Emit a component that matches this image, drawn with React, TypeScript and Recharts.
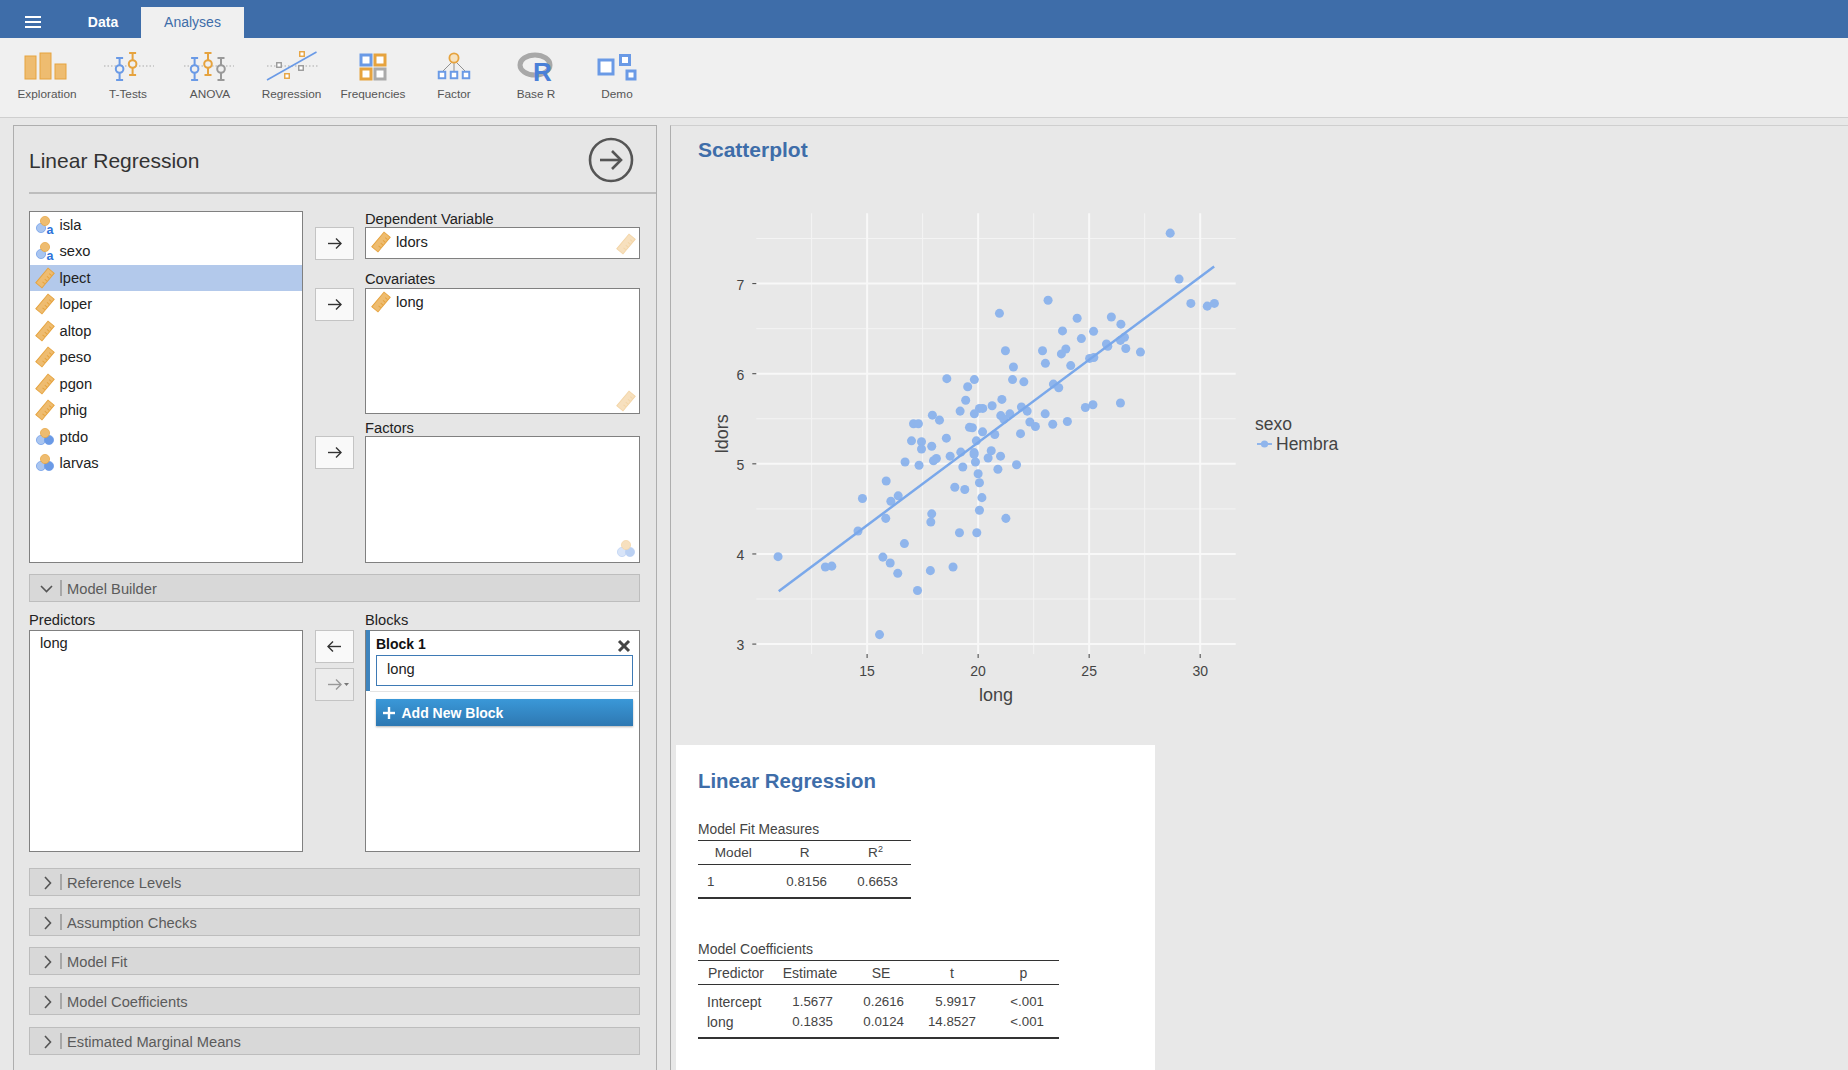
import React from 'react';
import {
  ScatterChart,
  Scatter,
  XAxis,
  YAxis,
  ZAxis,
  CartesianGrid,
  Legend,
} from 'recharts';

// long / ldors
const longValues = [
  20.96, 23.15, 24.46, 23.8, 25.2, 24.65, 21.23, 22.9, 23.95, 23.75, 25.02, 25.21, 23.03, 24.17, 21.59,
  18.59, 19.83, 21.55, 22.06, 19.53, 23.39, 23.63, 19.44, 21.07, 20.63, 20.06, 20.21, 21.95, 24.83, 25.17,
  19.19, 22.21, 17.94, 19.83, 21.43, 23.02, 21.02, 18.26, 21.16, 17.09, 17.31, 22.33, 22.58, 23.36, 24.02,
  19.61, 19.74, 20.2, 20.75, 21.91, 18.57, 17.0, 17.45, 19.92, 17.91, 17.45, 20.59, 19.22, 19.82, 19.82,
  18.74, 21.01, 20.45, 18.12, 17.99, 16.71, 19.88, 17.34, 21.73, 19.31, 20.89, 20.0, 20.06, 15.86, 18.95,
  19.4, 14.79, 16.4, 16.07, 20.17, 20.06, 17.91, 17.87, 15.84, 21.25, 19.16, 19.94, 14.59, 16.68, 10.99,
  15.71, 16.04, 13.12, 13.41, 16.38, 17.85, 18.87, 17.27, 15.56, 29.05, 29.58, 30.32, 30.64, 26.0, 26.43,
  25.78, 25.84, 26.59, 26.41, 26.65, 27.31, 26.41, 28.65,
];
const ldorsValues = [
  6.67, 6.815, 6.615, 6.475, 6.47, 6.39, 6.255, 6.255, 6.275, 6.22, 6.17, 6.18, 6.115, 6.09, 6.075,
  5.945, 5.935, 5.935, 5.91, 5.855, 5.885, 5.845, 5.705, 5.715, 5.645, 5.615, 5.615, 5.63, 5.625, 5.655,
  5.585, 5.585, 5.54, 5.555, 5.555, 5.555, 5.535, 5.485, 5.495, 5.445, 5.445, 5.465, 5.415, 5.44, 5.47,
  5.405, 5.4, 5.355, 5.325, 5.335, 5.285, 5.255, 5.245, 5.255, 5.195, 5.165, 5.145, 5.13, 5.125, 5.105,
  5.085, 5.085, 5.065, 5.06, 5.035, 5.02, 5.02, 4.985, 4.99, 4.965, 4.94, 4.89, 4.79, 4.81, 4.74,
  4.715, 4.615, 4.645, 4.585, 4.625, 4.485, 4.445, 4.355, 4.395, 4.395, 4.235, 4.235, 4.255, 4.115, 3.97,
  3.965, 3.9, 3.855, 3.865, 3.785, 3.815, 3.855, 3.595, 3.105, 7.05, 6.78, 6.75, 6.78, 6.63, 6.55,
  6.33, 6.305, 6.405, 6.37, 6.28, 6.24, 5.675, 7.56,
];
const fitLong = [11.02, 30.63];
const fitLdors = [3.587, 7.19];

const xTicks = [15, 20, 25, 30];
const yTicks = [3, 4, 5, 6, 7];
const xMinor = [12.5, 17.5, 22.5, 27.5];
const yMinor = [3.5, 4.5, 5.5, 6.5, 7.5];

const points = longValues.map((x, i) => ({ x, y: ldorsValues[i] }));
const fitPoints = fitLong.map((x, i) => ({ x, y: fitLdors[i] }));

const variables = ['isla', 'sexo', 'lpect', 'loper', 'altop', 'peso', 'pgon', 'phig', 'ptdo', 'larvas'];
const variableKinds = ['text', 'text', 'scale', 'scale', 'scale', 'scale', 'scale', 'scale', 'nominal', 'nominal'];
const collapsedSections = ['Reference Levels', 'Assumption Checks', 'Model Fit', 'Model Coefficients', 'Estimated Marginal Means'];
const toolbarLabels = ['Exploration', 'T-Tests', 'ANOVA', 'Regression', 'Frequencies', 'Factor', 'Base R', 'Demo'];
const fitRow = ['1', '0.8156', '0.6653'];
const coefHeaders = ['Predictor', 'Estimate', 'SE', 't', 'p'];
const coefRows = [
  ['Intercept', '1.5677', '0.2616', '5.9917', '<.001'],
  ['long', '0.1835', '0.0124', '14.8527', '<.001'],
];

const UI_FONT = '"Liberation Sans", sans-serif';
const BLUE = '#3e6da9';
const POINT = '#8fb5ec';
const ORANGE = '#eebc70';
const ORANGE_DK = '#e6a33e';
const ICON_BLUE = '#6a9ae6';

const Txt = ({ x, y, children, size = 14.7, color = '#333', bold = false, align = 'left' }: any) => (
  <div
    style={{
      position: 'absolute',
      left: x,
      top: y + 1,
      fontSize: size,
      color,
      fontWeight: bold ? 700 : 400,
      whiteSpace: 'nowrap',
      lineHeight: 1,
      transform: `translate(${align === 'center' ? '-50%' : align === 'right' ? '-100%' : '0'}, -50%)`,
    }}
  >
    {children}
  </div>
);

const Box = ({ x, y, w, h, bg = '#fff', border = '1px solid #808080', style = {}, children }: any) => (
  <div
    style={{
      position: 'absolute',
      left: x,
      top: y,
      width: w,
      height: h,
      background: bg,
      border,
      boxSizing: 'border-box',
      ...style,
    }}
  >
    {children}
  </div>
);

const Ruler = ({ x, y, faded = false }: any) => (
  <svg style={{ position: 'absolute', left: x, top: y, opacity: faded ? 0.45 : 1 }} width={20} height={22}>
    <g transform="rotate(40 10 11)">
      <rect x={6} y={1.5} width={8} height={19} fill={ORANGE} stroke={ORANGE_DK} />
      {[5, 8.5, 12, 15.5].map(t => (
        <line key={t} x1={10.5} x2={13.5} y1={t} y2={t} stroke={ORANGE_DK} />
      ))}
    </g>
  </svg>
);

const Nominal = ({ x, y, letter = false, faded = false }: any) => (
  <svg style={{ position: 'absolute', left: x, top: y, opacity: faded ? 0.45 : 1 }} width={20} height={20}>
    <circle cx={6} cy={13} r={4.6} fill="#a9c5f0" stroke={ICON_BLUE} strokeWidth={0.7} />
    {!letter && <circle cx={14} cy={13} r={4.6} fill={ICON_BLUE} stroke={ICON_BLUE} strokeWidth={0.7} />}
    <circle cx={10} cy={6} r={4.6} fill={ORANGE} stroke={ORANGE_DK} strokeWidth={0.7} />
    {letter && (
      <text x={11.5} y={18.5} fontSize={12.5} fontWeight={700} fill="#2f73d9" fontFamily={UI_FONT}>
        a
      </text>
    )}
  </svg>
);

const ArrowBtn = ({ y, dir = 'right', disabled = false }: any) => (
  <Box x={315} y={y} w={39} h={33} bg={disabled ? '#ececec' : '#f9f9f9'} border="1px solid #c4c4c4">
    <svg width={37} height={31}>
      <g stroke={disabled ? '#999' : '#333'} strokeWidth={1.4} fill="none">
        <line x1={12} x2={25} y1={15.5} y2={15.5} />
        {dir === 'right' ? <polyline points="20,10.5 25,15.5 20,20.5" /> : <polyline points="17,10.5 12,15.5 17,20.5" />}
      </g>
      {disabled && <polygon points="28,14 33,14 30.5,17" fill="#777" />}
    </svg>
  </Box>
);

const Section = ({ y, h, label, open = false }: any) => (
  <React.Fragment>
    <Box x={29} y={y} w={611} h={h} bg="#d8d8d8" border="1px solid #bdbdbd">
      <svg width={50} height={h - 2} style={{ position: 'absolute', left: 0, top: 0 }}>
        <polyline
          points={open ? '11,11 16.5,16.5 22,11' : '15,8 20.5,14 15,20'}
          stroke="#555"
          strokeWidth={1.6}
          fill="none"
        />
        <line x1={31} x2={31} y1={5} y2={h - 7} stroke="#777" />
      </svg>
    </Box>
    <Txt x={67} y={y + h / 2} color="#5b5b5b">
      {label}
    </Txt>
  </React.Fragment>
);

const ErrBar = ({ x, y1, y2, cy, color }: any) => (
  <g stroke={color} strokeWidth={2} fill="#f0f0f0">
    <line x1={x} x2={x} y1={y1} y2={y2} />
    <line x1={x - 3.5} x2={x + 3.5} y1={y1} y2={y1} />
    <line x1={x - 3.5} x2={x + 3.5} y1={y2} y2={y2} />
    <circle cx={x} cy={cy} r={3.8} />
  </g>
);

const Sq = ({ cx, cy, s, color, sw = 3 }: any) => (
  <rect x={cx - s / 2} y={cy - s / 2} width={s} height={s} fill="#fff" stroke={color} strokeWidth={sw} />
);

const ToolbarIcons = () => (
  <svg style={{ position: 'absolute', left: 0, top: 40 }} width={680} height={50} viewBox="0 40 680 50">
    {/* Exploration */}
    <rect x={25} y={56} width={11} height={23} fill={ORANGE} stroke={ORANGE_DK} />
    <rect x={40} y={53} width={11} height={26} fill={ORANGE} stroke={ORANGE_DK} />
    <rect x={55} y={64} width={11} height={15} fill={ORANGE} stroke={ORANGE_DK} />
    {/* T-Tests */}
    <line x1={104} x2={154} y1={66} y2={66} stroke="#aaa" strokeDasharray="1.5 2" />
    <ErrBar x={119.6} y1={58} y2={80} cy={69} color={ICON_BLUE} />
    <ErrBar x={132.6} y1={53} y2={75} cy={64} color={ORANGE_DK} />
    {/* ANOVA */}
    <line x1={184} x2={234} y1={66} y2={66} stroke="#aaa" strokeDasharray="1.5 2" />
    <ErrBar x={194.6} y1={58} y2={80} cy={69} color={ICON_BLUE} />
    <ErrBar x={208} y1={53} y2={75} cy={64} color={ORANGE_DK} />
    <ErrBar x={221} y1={58} y2={80} cy={69} color="#999" />
    {/* Regression */}
    <line x1={267} x2={318} y1={66} y2={66} stroke="#aaa" strokeDasharray="1.5 2" />
    <line x1={267} x2={316.5} y1={80} y2={52} stroke={ICON_BLUE} strokeWidth={1.6} />
    <Sq cx={302} cy={54} s={4.5} color={ORANGE_DK} sw={1.4} />
    <Sq cx={279} cy={65} s={4.5} color="#999" sw={1.4} />
    <Sq cx={301} cy={68} s={4.5} color="#999" sw={1.4} />
    <Sq cx={287} cy={76} s={4.5} color={ORANGE_DK} sw={1.4} />
    {/* Frequencies */}
    <Sq cx={366} cy={60} s={10} color={ICON_BLUE} />
    <Sq cx={380} cy={60} s={10} color={ORANGE_DK} />
    <Sq cx={366} cy={74} s={10} color={ORANGE_DK} />
    <Sq cx={380} cy={74} s={10} color="#aaa" />
    {/* Factor */}
    <g stroke="#777" strokeWidth={0.8}>
      <line x1={454} x2={442} y1={60} y2={72} />
      <line x1={454} x2={454} y1={60} y2={72} />
      <line x1={454} x2={466} y1={60} y2={72} />
    </g>
    <circle cx={454} cy={58} r={4.6} fill="#f6e2c0" stroke={ORANGE_DK} strokeWidth={1.8} />
    <Sq cx={442} cy={75} s={6.5} color={ICON_BLUE} sw={2} />
    <Sq cx={454} cy={75} s={6.5} color={ICON_BLUE} sw={2} />
    <Sq cx={466} cy={75} s={6.5} color={ICON_BLUE} sw={2} />
    {/* Base R */}
    <ellipse cx={535} cy={65} rx={15} ry={10} fill="none" stroke="#a8a8a8" strokeWidth={5} />
    <text x={533} y={81} fontSize={26} fontWeight={700} fill="#4a80d8" fontFamily={UI_FONT}>
      R
    </text>
    {/* Demo */}
    <Sq cx={606} cy={67} s={14} color={ICON_BLUE} />
    <Sq cx={625} cy={60} s={9} color={ICON_BLUE} />
    <Sq cx={631} cy={75} s={8} color={ICON_BLUE} />
  </svg>
);

const toolbarCenters = [47, 128, 210, 291.5, 373, 454, 536, 617];

const LegendBox = ({ payload }: any) => (
  <div style={{ fontFamily: UI_FONT, color: '#444', fontSize: 17.5, width: 90 }}>
    <div style={{ lineHeight: '20px' }}>sexo</div>
    {(payload || [])
      .filter((p: any) => p.value !== 'fit')
      .map((p: any) => (
        <div key={p.value} style={{ display: 'flex', alignItems: 'center', lineHeight: '20px' }}>
          <svg width={21} height={20}>
            <line x1={2} x2={17} y1={10} y2={10} stroke={POINT} strokeWidth={2} />
            <circle cx={9.5} cy={10} r={3.6} fill={POINT} />
          </svg>
          <span>{p.value}</span>
        </div>
      ))}
  </div>
);

const ScatterPanel = () => (
  <div style={{ position: 'absolute', left: 670, top: 190 }}>
    <ScatterChart width={700} height={530} margin={{ top: 23.3, right: 44.3, bottom: 26, left: 0 }}>
      <CartesianGrid stroke="#f4f4f4" strokeWidth={1} verticalValues={xMinor} horizontalValues={yMinor} />
      <CartesianGrid stroke="#f8f8f8" strokeWidth={2} verticalValues={xTicks} horizontalValues={yTicks} />
      <XAxis
        type="number"
        dataKey="x"
        domain={[10.01, 31.6]}
        ticks={xTicks}
        allowDataOverflow
        axisLine={false}
        tickLine={{ stroke: '#444' }}
        tickSize={4}
        tickMargin={8}
        height={40}
        tick={{ fill: '#444', fontSize: 14, fontFamily: UI_FONT }}
        label={{ value: 'long', position: 'insideBottom', offset: -7, fill: '#444', fontSize: 18, fontFamily: UI_FONT }}
      />
      <YAxis
        type="number"
        dataKey="y"
        domain={[2.89, 7.78]}
        ticks={yTicks}
        allowDataOverflow
        axisLine={false}
        tickLine={{ stroke: '#444' }}
        tickSize={4}
        tickMargin={8}
        width={86.3}
        tick={{ fill: '#444', fontSize: 14, fontFamily: UI_FONT, dy: 1 }}
        label={{
          value: 'ldors',
          angle: -90,
          position: 'insideLeft',
          offset: 52,
          textAnchor: 'middle',
          fill: '#444',
          fontSize: 18,
          fontFamily: UI_FONT,
        }}
      />
      <ZAxis range={[42, 42]} />
      <Scatter name="Hembra" data={points} fill={POINT} isAnimationActive={false} />
      <Scatter
        name="fit"
        data={fitPoints}
        legendType="none"
        line={{ stroke: '#7aa8ea', strokeWidth: 2.5 }}
        shape={() => null}
        isAnimationActive={false}
      />
      <Legend
        layout="vertical"
        align="right"
        verticalAlign="top"
        content={<LegendBox />}
        wrapperStyle={{ left: 585, top: 223.5, width: 90 }}
      />
    </ScatterChart>
  </div>
);

const Rule = ({ x, y, w, h = 1 }: any) => (
  <div style={{ position: 'absolute', left: x, top: y, width: w, height: h, background: '#333' }} />
);

const coefCenters = [736, 810, 881, 952, 1023.5];
const coefRights = [0, 833, 904, 976, 1044];

const ResultTables = () => (
  <React.Fragment>
    <Box x={676} y={745} w={479} h={325} border="none" />
    <Txt x={698} y={780} size={20.4} bold color={BLUE}>Linear Regression</Txt>

    <Txt x={698} y={829} size={13.8} color="#444">Model Fit Measures</Txt>
    <Rule x={698} y={840} w={213} />
    <Txt x={733.3} y={851.5} size={13.6} align="center" color="#444">Model</Txt>
    <Txt x={804.7} y={851.5} size={13.6} align="center" color="#444">R</Txt>
    <Txt x={875.5} y={851.5} size={13.6} align="center" color="#444">R<sup style={{ fontSize: 9, lineHeight: 0 }}>2</sup></Txt>
    <Rule x={698} y={864} w={213} />
    <Txt x={707} y={881} size={13.3} color="#444">{fitRow[0]}</Txt>
    <Txt x={827} y={880.5} size={13.3} align="right" color="#444">{fitRow[1]}</Txt>
    <Txt x={898} y={880.5} size={13.3} align="right" color="#444">{fitRow[2]}</Txt>
    <Rule x={698} y={897} w={213} h={2} />

    <Txt x={698} y={948} size={14} color="#444">Model Coefficients</Txt>
    <Rule x={698} y={960} w={361} />
    {coefHeaders.map((h, i) => (
      <Txt key={h} x={coefCenters[i]} y={971.5} size={14} align="center" color="#444">{h}</Txt>
    ))}
    <Rule x={698} y={984} w={361} />
    {coefRows.map((row, r) => (
      <React.Fragment key={row[0]}>
        <Txt x={707} y={1001 + r * 20} size={14} color="#444">{row[0]}</Txt>
        {row.slice(1).map((v, c) => (
          <Txt key={c} x={coefRights[c + 1]} y={1000.5 + r * 20} size={13.3} align="right" color="#444">{v}</Txt>
        ))}
      </React.Fragment>
    ))}
    <Rule x={698} y={1037} w={361} h={2} />
  </React.Fragment>
);

const App = () => (
  <div
    style={{
      position: 'absolute',
      left: 0,
      top: 0,
      width: 1848,
      height: 1070,
      overflow: 'hidden',
      background: '#e8e8e8',
      fontFamily: UI_FONT,
    }}
  >
    {/* title bar and tabs */}
    <div style={{ position: 'absolute', left: 0, top: 0, width: 1848, height: 38, background: BLUE }} />
    {[17, 22, 27].map(y => (
      <div key={y} style={{ position: 'absolute', left: 25, top: y - 1, width: 16, height: 2, background: '#fff' }} />
    ))}
    <Txt x={103} y={21} size={14} color="#fff" bold align="center">Data</Txt>
    <div style={{ position: 'absolute', left: 141, top: 7, width: 103, height: 31, background: '#f0f0f0' }} />
    <Txt x={192.5} y={21} size={14} color={BLUE} align="center">Analyses</Txt>

    {/* toolbar */}
    <div
      style={{
        position: 'absolute',
        left: 0,
        top: 38,
        width: 1848,
        height: 80,
        background: '#f0f0f0',
        borderBottom: '1px solid #cfcfcf',
        boxSizing: 'border-box',
      }}
    />
    <ToolbarIcons />
    {toolbarLabels.map((l, i) => (
      <Txt key={l} x={toolbarCenters[i]} y={94} size={11.8} color="#555" align="center">{l}</Txt>
    ))}

    {/* options panel */}
    <Box x={13} y={125} w={644} h={960} bg="#e6e6e6" border="1px solid #aeaeae" />
    <div style={{ position: 'absolute', left: 29, top: 192, width: 627, height: 2, background: '#bdbdbd' }} />
    <Txt x={29} y={159} size={21} color="#333">Linear Regression</Txt>
    <svg style={{ position: 'absolute', left: 585, top: 134 }} width={52} height={52}>
      <circle cx={26} cy={26} r={21} fill="none" stroke="#555" strokeWidth={2.6} />
      <g stroke="#555" strokeWidth={2.6} fill="none">
        <line x1={15} x2={36} y1={26} y2={26} />
        <polyline points="27,17 36,26 27,35" />
      </g>
    </svg>

    {/* variable list */}
    <Box x={29} y={211} w={274} h={352} />
    <div style={{ position: 'absolute', left: 30, top: 265, width: 272, height: 26, background: '#b3c9eb' }} />
    {variables.map((v, i) => {
      const cy = 224 + i * 26.45;
      return (
        <React.Fragment key={v}>
          {variableKinds[i] === 'scale' ? (
            <Ruler x={35} y={cy - 10} />
          ) : (
            <Nominal x={35} y={cy - 9} letter={variableKinds[i] === 'text'} />
          )}
          <Txt x={59.5} y={cy} color="#222">{v}</Txt>
        </React.Fragment>
      );
    })}

    <ArrowBtn y={227} />
    <ArrowBtn y={288} />
    <ArrowBtn y={436} />

    <Txt x={365} y={218} color="#222">Dependent Variable</Txt>
    <Box x={365} y={227} w={275} h={32} />
    <Ruler x={371} y={231} />
    <Txt x={396} y={241} color="#222">ldors</Txt>
    <Ruler x={616} y={233} faded />

    <Txt x={365} y={278} color="#222">Covariates</Txt>
    <Box x={365} y={288} w={275} h={126} />
    <Ruler x={371} y={291} />
    <Txt x={396} y={301} color="#222">long</Txt>
    <Ruler x={616} y={390} faded />

    <Txt x={365} y={427} color="#222">Factors</Txt>
    <Box x={365} y={436} w={275} h={127} />
    <Nominal x={616} y={539} faded />

    <Section y={574} h={28} label="Model Builder" open />

    {/* model builder */}
    <Txt x={29} y={619} color="#222">Predictors</Txt>
    <Box x={29} y={629.5} w={274} h={222} />
    <Txt x={40} y={642} color="#222">long</Txt>
    <ArrowBtn y={629.5} dir="left" />
    <ArrowBtn y={667.5} disabled />
    <Txt x={365} y={619} color="#222">Blocks</Txt>
    <Box x={365} y={629.5} w={275} h={222} />
    <div style={{ position: 'absolute', left: 366, top: 630, width: 4, height: 61, background: '#3e84bd' }} />
    <div style={{ position: 'absolute', left: 370, top: 691, width: 269, height: 1, background: '#e4e4e4' }} />
    <Txt x={376} y={642.5} size={14} color="#111" bold>Block 1</Txt>
    <svg style={{ position: 'absolute', left: 617, top: 639 }} width={14} height={14}>
      <g stroke="#444" strokeWidth={3}>
        <line x1={2} x2={12} y1={2} y2={12} />
        <line x1={12} x2={2} y1={2} y2={12} />
      </g>
    </svg>
    <Box x={376} y={655} w={257} h={31} border="1px solid #3e7ab5" />
    <Txt x={387} y={667.5} color="#222">long</Txt>
    <div
      style={{
        position: 'absolute',
        left: 376,
        top: 698.5,
        width: 257,
        height: 27,
        background: 'linear-gradient(#3a98d8, #2e78b2)',
        boxShadow: '0 1px 2px rgba(0,0,0,0.3)',
      }}
    />
    <svg style={{ position: 'absolute', left: 382, top: 705.5 }} width={14} height={14}>
      <g stroke="#fff" strokeWidth={2.4}>
        <line x1={7} x2={7} y1={1} y2={13} />
        <line x1={1} x2={13} y1={7} y2={7} />
      </g>
    </svg>
    <Txt x={401.5} y={711.5} size={14} color="#fff" bold>Add New Block</Txt>

    {collapsedSections.map((s, i) => (
      <Section key={s} y={[868, 908, 947, 987, 1027][i]} h={28} label={s} />
    ))}

    {/* results */}
    <div style={{ position: 'absolute', left: 670, top: 125, width: 1178, height: 945, borderLeft: '1px solid #aeaeae', borderTop: '1px solid #cfcfcf', boxSizing: 'border-box' }} />
    <Txt x={698} y={148} size={21} bold color={BLUE}>Scatterplot</Txt>
    <ScatterPanel />
    <ResultTables />
  </div>
);

export default App;
